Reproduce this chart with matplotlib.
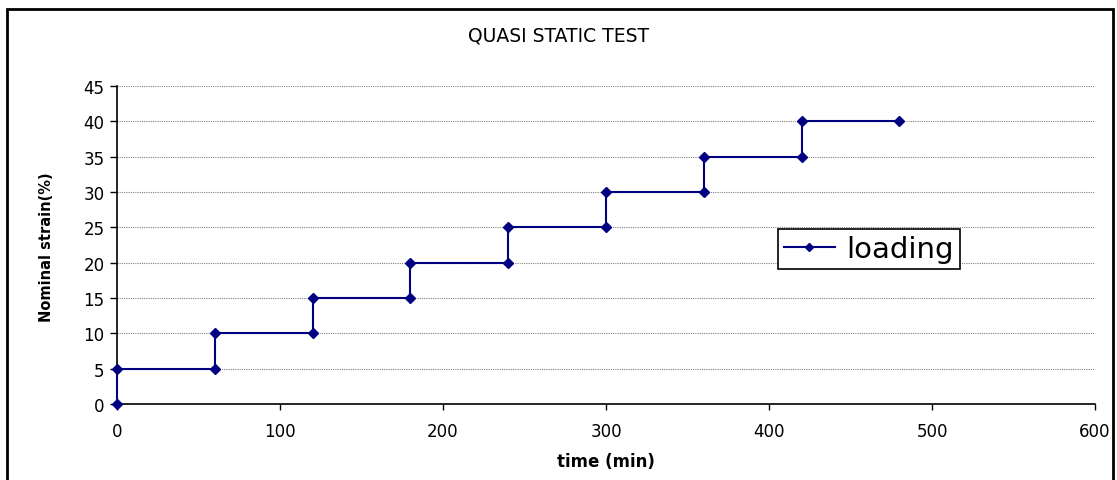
import matplotlib
matplotlib.use("Agg")
import matplotlib.pyplot as plt
from matplotlib.patches import Rectangle

plt.rcParams['font.family'] = ['DejaVu Sans']

time_min = [0, 0, 60, 60, 120, 120, 180, 180, 240, 240, 300, 300, 360, 360, 420, 420, 480]
strain = [0, 5, 5, 10, 10, 15, 15, 20, 20, 25, 25, 30, 30, 35, 35, 40, 40]
x_ticks = [0, 100, 200, 300, 400, 500, 600]
y_ticks = [0, 5, 10, 15, 20, 25, 30, 35, 40, 45]

W, H = 1117, 481
fig = plt.figure(figsize=(W / 100, H / 100), dpi=100)
ax = fig.add_axes([117 / W, 1 - 405 / H, (1095 - 117) / W, (405 - 87) / H])

ax.plot(time_min, strain, color='#000080', lw=1.5, marker='D', ms=5.5,
        markerfacecolor='#000080', markeredgecolor='#000080', label='loading', clip_on=False, zorder=3)

ax.set_xlim(0, 600)
ax.set_ylim(0, 45)
ax.set_xticks(x_ticks)
ax.set_yticks(y_ticks)
ax.tick_params(axis='both', direction='out', width=1, labelsize=12, colors='black')
ax.tick_params(axis='x', length=4, pad=9)
ax.tick_params(axis='y', length=5, pad=4)
for s in ['top', 'right']:
    ax.spines[s].set_visible(False)
for s in ['left', 'bottom']:
    ax.spines[s].set_linewidth(1.2)
ax.yaxis.grid(True, color='#808080', linestyle=(0, (1, 1)), linewidth=0.8)
ax.set_axisbelow(True)

ax.set_xlabel('time (min)', fontsize=12, fontweight='bold', va='center')
ax.xaxis.set_label_coords(0.5, -(462 - 405) / (405 - 87))
ax.set_ylabel('Nominal strain(%)', fontsize=10.5, fontweight='bold', va='center')
ax.yaxis.set_label_coords(-(117 - 47) / (1095 - 117), 0.5 - 1 / 318)

fig.text(559 / W, 1 - 36 / H, 'QUASI STATIC TEST', fontsize=13.5, ha='center', va='center')

leg = ax.legend(loc='upper left', bbox_to_anchor=((778 - 117) / (1095 - 117), (405 - 230) / (405 - 87)),
                fontsize=21, frameon=True, fancybox=False, edgecolor='black', framealpha=1,
                borderpad=0.2, handlelength=1.75, handletextpad=0.4, borderaxespad=0, markerscale=0.8)
leg.get_frame().set_linewidth(1.2)

fig.patches.append(Rectangle((7 / W, -0.1), (1113 - 7) / W, 1.1 - 10 / H,
                             transform=fig.transFigure, fill=False, edgecolor='black', linewidth=2))

fig.savefig('out.png', dpi=100)
